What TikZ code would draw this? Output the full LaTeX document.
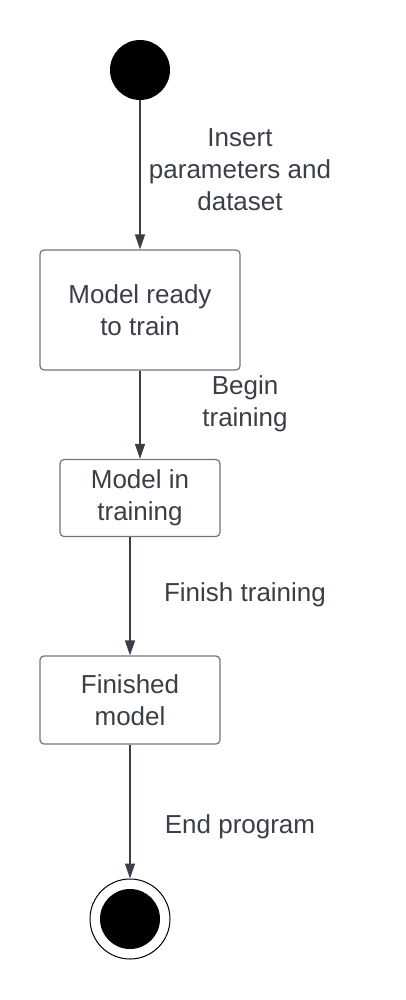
\documentclass[tikz,border=0pt]{standalone}
\usepackage{fontspec}
\setmainfont{Liberation Sans}
\usetikzlibrary{arrows.meta,positioning,calc}
\definecolor{edgegray}{RGB}{58,63,71}
\definecolor{boxgray}{RGB}{112,116,124}

\begin{document}
\begin{tikzpicture}[
x=1pt,y=-1pt,
state/.style={
  draw=boxgray,
  rounded corners=4pt,
  line width=1.2pt,
  text=edgegray,
  align=center,
  inner sep=0pt,
  font=\fontsize{26}{32}\selectfont
},
lbl/.style={
  text=edgegray,
  align=center,
  inner sep=0pt,
  font=\fontsize{26}{32}\selectfont
},
trans/.style={
  draw=edgegray,
  line width=1.3pt,
  -{Triangle[width=10pt,length=15pt]}
},
dot/.style={
  circle,
  fill=black,
  inner sep=0pt,
  minimum size=60pt
}
]
\useasboundingbox (0,0) rectangle (405,1000);

\node[dot] (init) at (140,70) {};

\node[state,minimum width=200pt,minimum height=120pt] at (140,310)
  (ready) {Model ready\\to train};
\node[state,minimum width=160pt,minimum height=77pt] at (140,498)
  (intrain) {Model in\\training};
\node[state,minimum width=180pt,minimum height=88pt] at (130,700)
  (finished) {Finished\\model};

\node[circle,draw=black,line width=1pt,inner sep=0pt,minimum size=80pt] at (130,919)
  (final) {};
\node[dot] at (final) (finaldot) {};

\node[lbl] at (240,170) (insert) {Insert\\parameters and\\dataset};
\node[lbl] at (245,404) (begin) {Begin\\training};
\node[lbl] at (245,595) (finish) {Finish training};
\node[lbl] at (240,827) (endprog) {End program};

\draw[trans] (init) -- (ready);
\draw[trans] (ready) -- (intrain);
\draw[trans] (intrain.south -| finished) -- (finished);
\draw[trans] (finished) -- (final);
\end{tikzpicture}
\end{document}
